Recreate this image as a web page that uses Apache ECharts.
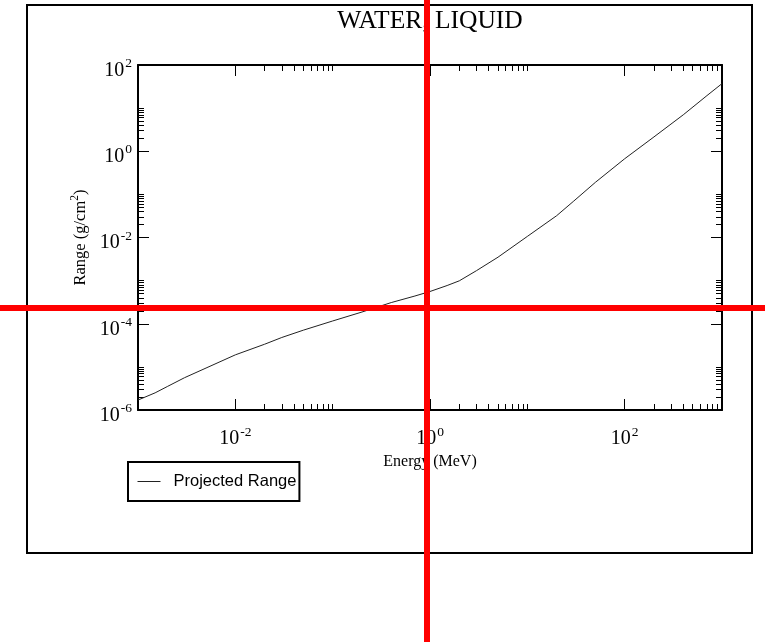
<!DOCTYPE html>
<html>
<head>
<meta charset="utf-8">
<script src="https://cdn.jsdelivr.net/npm/echarts@6/dist/echarts.min.js"></script>
<style>
html,body{margin:0;padding:0;background:#fff;}
#chart{width:765px;height:642px;}
</style>
</head>
<body>
<div id="chart"></div>
<script>
// Data (alpha projected range in liquid water)
const energyMeV = [0.001, 0.0015, 0.002, 0.003, 0.005, 0.01, 0.02, 0.03, 0.05, 0.1, 0.2, 0.4, 0.7, 1, 1.5, 2, 3, 5, 10, 20, 30, 50, 100, 200, 400, 700, 1000];
const rangeGcm2 = [1.7e-6, 2.5e-6, 3.5e-6, 5.6e-6, 9.4e-6, 1.9e-5, 3.35e-5, 4.8e-5, 7.1e-5, 1.16e-4, 1.87e-4, 3.1e-4, 4.4e-4, 5.6e-4, 7.7e-4, 9.9e-4, 1.7e-3, 3.5e-3, 1.06e-2, 0.032, 0.070, 0.19, 0.67, 2.15, 7.0, 19.5, 37];
const seriesName = 'Projected Range';
const titleText = 'WATER, LIQUID';
const xName = 'Energy (MeV)';
const xMajorTicks = [1e-2, 1, 1e2];
const yMajorTicks = [1e-6, 1e-4, 1e-2, 1, 1e2];
const xMinorDecades = [1e-2, 1, 1e2];
const yMinorDecades = [1e-6, 1e-4, 1e-2, 1];
const xRange = [1e-3, 1e3];
const yRange = [1e-6, 1e2];

function minors(decades) {
  const out = [];
  decades.forEach(d => { for (let k = 2; k <= 10; k++) out.push(+(d * k).toPrecision(6)); });
  return out;
}
const xMinor = minors(xMinorDecades);
const yMinor = minors(yMinorDecades);

const SERIF = '"Liberation Serif", "DejaVu Serif", serif';
const SANS = '"Liberation Sans", Arial, sans-serif';
const expFmt = v => '{b|10}{s|' + Math.round(Math.log10(v)) + '}';
const labelRich = {
  b: {fontFamily: SERIF, fontSize: 20, color: '#000', lineHeight: 24, verticalAlign: 'bottom'},
  s: {fontFamily: SERIF, fontSize: 13.5, color: '#000', lineHeight: 24, verticalAlign: 'top', padding: [0, 0, 0, 1]}
};
const gridRect = {left: 138, top: 65, width: 584, height: 345, containLabel: false};
const axisLineStyle = {color: '#000', width: 2};

function xAx(gridIndex, position, ticks, len, showLine, labels) {
  return {
    type: 'log', logBase: 10, gridIndex, position, min: xRange[0], max: xRange[1],
    axisLine: {show: showLine, lineStyle: axisLineStyle},
    axisTick: {show: true, inside: true, length: len, customValues: ticks, lineStyle: {color: '#000', width: 1}},
    axisLabel: labels ? {show: true, customValues: xMajorTicks, formatter: expFmt, rich: labelRich, margin: 12, padding: [3, 0, 0, 0]} : {show: false},
    splitLine: {show: false}, minorTick: {show: false}
  };
}
function yAx(gridIndex, position, ticks, len, showLine, labels) {
  return {
    type: 'log', logBase: 10, gridIndex, position, min: yRange[0], max: yRange[1],
    axisLine: {show: showLine, lineStyle: axisLineStyle},
    axisTick: {show: true, inside: true, length: len, customValues: ticks, lineStyle: {color: '#000', width: 1}},
    axisLabel: labels ? {show: true, customValues: yMajorTicks, formatter: expFmt, rich: labelRich, margin: 6, padding: [7, 0, 0, 0]} : {show: false},
    splitLine: {show: false}, minorTick: {show: false}
  };
}

const xAxes = [
  Object.assign(xAx(0, 'bottom', xMajorTicks, 11, true, true), {
    name: xName, nameLocation: 'middle', nameGap: 37,
    nameTextStyle: {fontFamily: SERIF, fontSize: 16, color: '#000'}
  }),
  xAx(1, 'top', xMajorTicks, 11, true, false),
  xAx(2, 'bottom', xMinor, 6, false, false),
  xAx(3, 'top', xMinor, 6, false, false)
];
const yAxes = [
  Object.assign(yAx(0, 'left', yMajorTicks, 11, true, true), {
    name: '{n|Range (g/cm}{sup|2}{n|)}', nameLocation: 'middle', nameGap: 45, nameRotate: 90,
    nameTextStyle: {
      rich: {
        n: {fontFamily: SERIF, fontSize: 16.5, color: '#000', lineHeight: 20, verticalAlign: 'bottom'},
        sup: {fontFamily: SERIF, fontSize: 11.5, color: '#000', lineHeight: 20, verticalAlign: 'top'}
      }
    }
  }),
  yAx(1, 'right', yMajorTicks, 11, true, false),
  yAx(2, 'left', yMinor, 6, false, false),
  yAx(3, 'right', yMinor, 6, false, false)
];

const chart = echarts.init(document.getElementById('chart'), null, {renderer: 'canvas'});
chart.setOption({
  backgroundColor: '#fff',
  animation: false,
  title: {
    text: titleText, left: 425, top: 3, textAlign: 'center',
    textStyle: {fontFamily: SERIF, fontSize: 25.5, fontWeight: 'normal', color: '#000'}
  },
  legend: {
    left: 128, top: 462, orient: 'vertical',
    data: [seriesName],
    borderColor: '#000', borderWidth: 2, borderRadius: 0,
    padding: [11, 3, 11, 9],
    itemWidth: 23, itemHeight: 14,
    itemStyle: {opacity: 0},
    lineStyle: {color: '#222', width: 1},
    textStyle: {fontFamily: SANS, fontSize: 16.5, color: '#000', padding: [0, 0, 0, 8]}
  },
  grid: [gridRect, gridRect, gridRect, gridRect],
  xAxis: xAxes,
  yAxis: yAxes,
  series: [{
    name: seriesName, type: 'line', xAxisIndex: 0, yAxisIndex: 0,
    data: energyMeV.map((e, i) => [e, rangeGcm2[i]]),
    showSymbol: false, symbol: 'none', smooth: false,
    lineStyle: {color: '#222', width: 1},
    itemStyle: {color: '#222'}
  }],
  graphic: [
    {type: 'rect', shape: {x: 27, y: 5, width: 725, height: 548}, style: {fill: 'none', stroke: '#000', lineWidth: 2}, z: -1, silent: true},
    {type: 'line', shape: {x1: 427, y1: 0, x2: 427, y2: 642}, style: {stroke: '#ff0000', lineWidth: 6}, z: 100, silent: true},
    {type: 'line', shape: {x1: 0, y1: 308, x2: 765, y2: 308}, style: {stroke: '#ff0000', lineWidth: 6}, z: 100, silent: true}
  ]
});
</script>
</body>
</html>
